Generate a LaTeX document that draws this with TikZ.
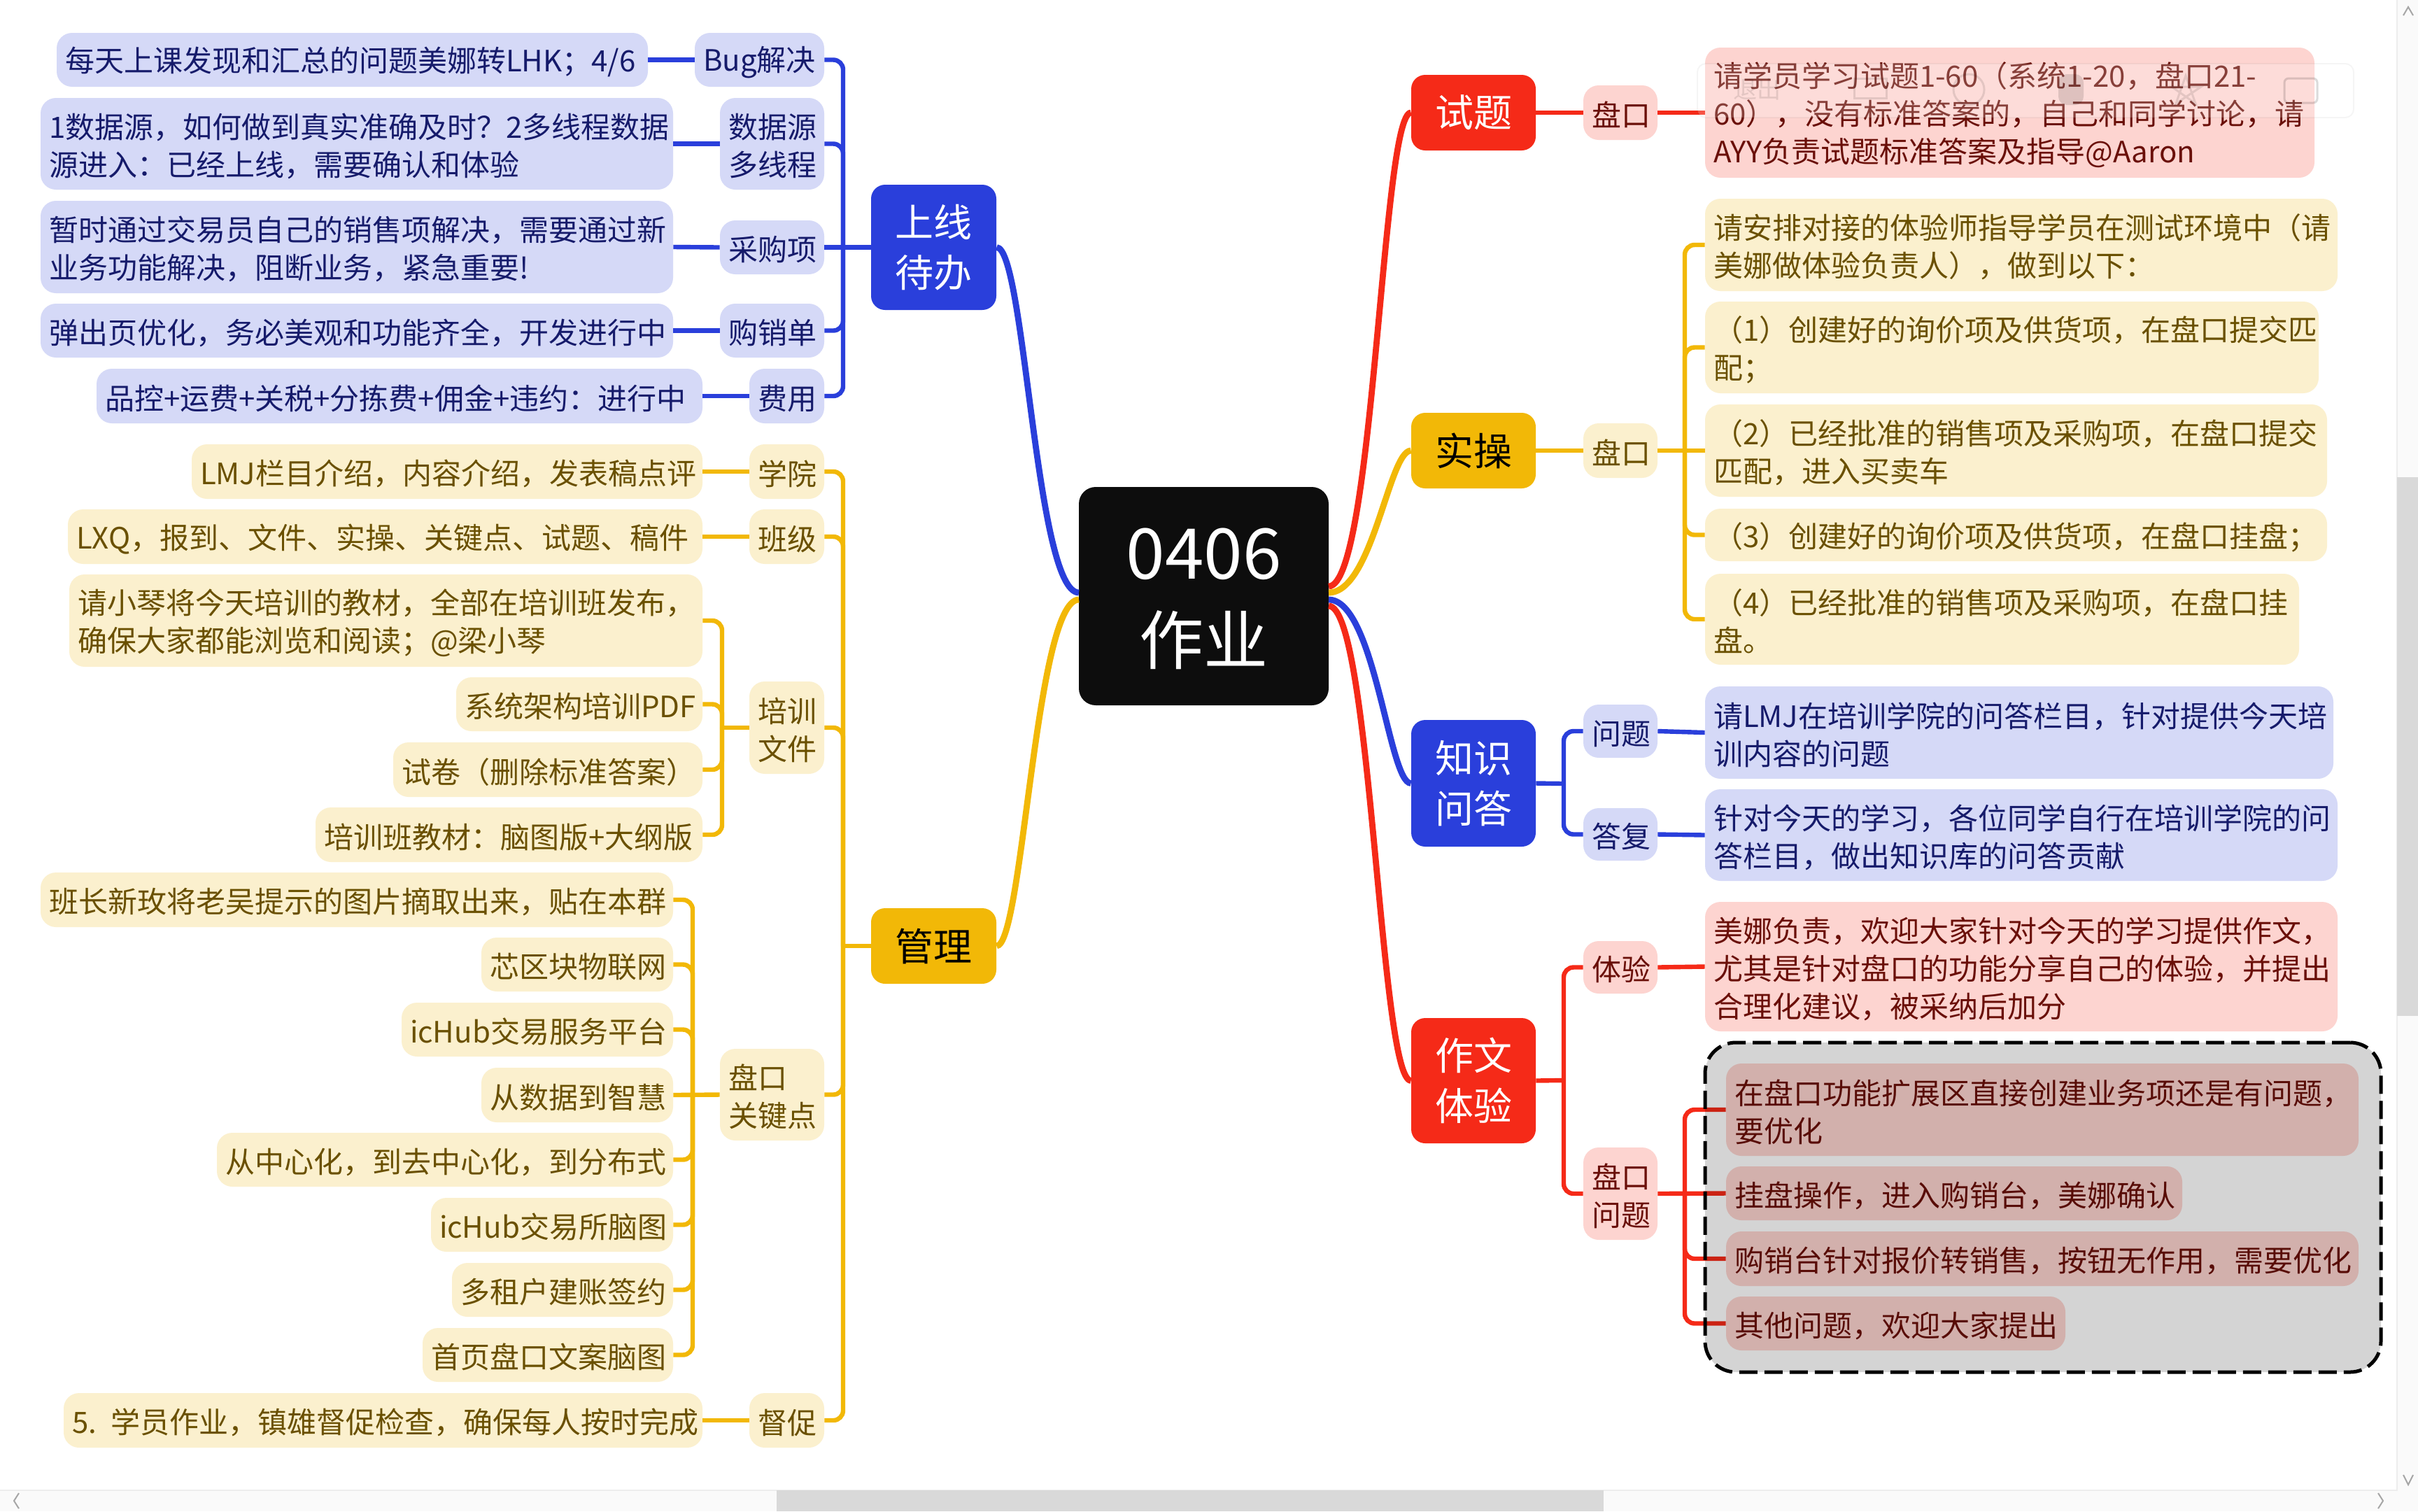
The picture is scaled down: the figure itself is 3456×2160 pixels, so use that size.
\documentclass[tikz,border=0pt]{standalone}
\usepackage{fontspec}
\setmainfont{Noto Sans CJK SC}
\definecolor{cblue}{HTML}{2A3FDB}
\definecolor{cyel}{HTML}{F2B807}
\definecolor{cred}{HTML}{F52A18}
\definecolor{lblue}{HTML}{D5D9F7}
\definecolor{lyel}{HTML}{FBF0CE}
\definecolor{lred}{HTML}{FDD4D0}
\definecolor{tblue}{HTML}{161B6B}
\definecolor{tyel}{HTML}{6A5000}
\definecolor{tred}{HTML}{6A0F08}
\tikzset{
  leafbox/.style={rounded corners=11pt,inner xsep=6pt,inner ysep=0pt,align=left,font=\fontsize{21}{27}\selectfont,execute at begin node={\rule{0pt}{21pt}}},
  blubox/.style={leafbox,fill=lblue,text=tblue},
  yelbox/.style={leafbox,fill=lyel,text=tyel},
  redbox/.style={leafbox,fill=lred,text=tred},
  mainbox/.style={rounded corners=10pt,inner xsep=6pt,inner ysep=0pt,align=center,font=\fontsize{27.5}{36}\selectfont},
  centerbox/.style={rounded corners=12pt,inner xsep=6pt,inner ysep=0pt,align=center,fill=black!95,text=white,font=\fontsize{46}{61}\selectfont,execute at begin node={\rule{0pt}{40.5pt}}},
  groupbox/.style={rounded corners=22pt,inner xsep=0pt,inner ysep=0pt,draw=black,line width=2.5pt,dash pattern=on 13pt off 5pt,fill=black,fill opacity=.17,draw opacity=1},
  curve/.style={line width=4.4pt},
  link/.style={line width=3.2pt},
  elbow/.style={line width=3.2pt,rounded corners=7pt},
  chev/.style={draw=black!35,line width=1pt},
}
\newcommand{\bx}[7]{%
  \pgfmathsetmacro\cxx{(#2+#4)/2}\pgfmathsetmacro\cyy{(#3+#5)/2}%
  \pgfmathsetmacro\ww{(#4-#2)*0.5}\pgfmathsetmacro\hh{(#5-#3)*0.5}\pgfmathsetmacro\tw{\ww-12}%
  \node[#6,minimum width=\ww pt,minimum height=\hh pt,text width=\tw pt] (#1) at (\cxx,\cyy) {#7};}
\begin{document}
\begin{tikzpicture}[x=0.5pt,y=-0.5pt]
\useasboundingbox (0,0) rectangle (3456,2160);
\fill[white] (0,0) rectangle (3456,2160);

% centre and main topics
\bx{root}{1542}{696}{1899}{1008}{centerbox}{{\fontsize{50}{61}\selectfont 0406}\\作业}
\bx{shiti}{2017}{107}{2195}{215}{mainbox,fill=cred,text=white}{试题}
\bx{shicao}{2017}{590}{2195}{698}{mainbox,fill=cyel,text=black}{实操}
\bx{zhishi}{2017}{1029}{2195}{1210}{mainbox,fill=cblue,text=white}{知识\\问答}
\bx{zuowen}{2017}{1455}{2195}{1634}{mainbox,fill=cred,text=white}{作文\\体验}
\bx{shangxian}{1245}{264}{1424}{443}{mainbox,fill=cblue,text=white}{上线\\待办}
\bx{guanli}{1245}{1298}{1424}{1406}{mainbox,fill=cyel,text=black}{管理}

% 上线待办
\bx{bug}{993}{47}{1178}{124}{blubox}{Bug解决}
\bx{bugt}{81}{47}{926}{124}{blubox}{每天上课发现和汇总的问题美娜转LHK；4/6}
\bx{sjy}{1029}{140}{1178}{271}{blubox}{数据源\\多线程}
\bx{sjyt}{58}{140}{962}{271}{blubox}{1数据源，如何做到真实准确及时？2多线程数据\\源进入：已经上线，需要确认和体验}
\bx{cgx}{1029}{315}{1178}{392}{blubox}{采购项}
\bx{cgxt}{58}{287}{962}{419}{blubox}{暂时通过交易员自己的销售项解决，需要通过新\\业务功能解决，阻断业务，紧急重要!}
\bx{gxd}{1029}{434}{1178}{511}{blubox}{购销单}
\bx{gxdt}{58}{434}{962}{511}{blubox}{弹出页优化，务必美观和功能齐全，开发进行中}
\bx{fy}{1071}{527}{1178}{605}{blubox}{费用}
\bx{fyt}{138}{527}{1004}{605}{blubox}{品控+运费+关税+分拣费+佣金+违约：进行中}

% 管理
\bx{xy}{1071}{635}{1178}{713}{yelbox}{学院}
\bx{xyt}{274}{635}{1004}{713}{yelbox}{LMJ栏目介绍，内容介绍，发表稿点评}
\bx{bj}{1071}{728}{1178}{806}{yelbox}{班级}
\bx{bjt}{97}{728}{1004}{806}{yelbox}{LXQ，报到、文件、实操、关键点、试题、稿件}
\bx{px}{1071}{974}{1178}{1106}{yelbox}{培训\\文件}
\bx{pxa}{99}{821}{1004}{953}{yelbox}{请小琴将今天培训的教材，全部在培训班发布，\\确保大家都能浏览和阅读；@梁小琴}
\bx{pxb}{652}{968}{1004}{1045}{yelbox}{系统架构培训PDF}
\bx{pxc}{562}{1061}{1004}{1139}{yelbox}{试卷（删除标准答案）}
\bx{pxd}{451}{1154}{1004}{1232}{yelbox}{培训班教材：脑图版+大纲版}
\bx{gjd}{1029}{1499}{1178}{1630}{yelbox}{盘口\\关键点}
\bx{ga}{58}{1247}{962}{1325}{yelbox}{班长新玫将老吴提示的图片摘取出来，贴在本群}
\bx{gb}{688}{1340}{962}{1417}{yelbox}{芯区块物联网}
\bx{gc}{574}{1433}{962}{1510}{yelbox}{icHub交易服务平台}
\bx{gd}{688}{1526}{962}{1604}{yelbox}{从数据到智慧}
\bx{ge}{310}{1619}{962}{1696}{yelbox}{从中心化，到去中心化，到分布式}
\bx{gf}{616}{1712}{962}{1789}{yelbox}{icHub交易所脑图}
\bx{gg}{646}{1805}{962}{1882}{yelbox}{多租户建账签约}
\bx{gh}{604}{1898}{962}{1975}{yelbox}{首页盘口文案脑图}
\bx{dc}{1071}{1991}{1178}{2069}{yelbox}{督促}
\bx{dct}{91}{1991}{1004}{2069}{yelbox}{5. 学员作业，镇雄督促检查，确保每人按时完成}

% 试题
\bx{stl}{2263}{122}{2369}{200}{redbox}{盘口}
\bx{stt}{2437}{68}{3308}{254}{redbox}{请学员学习试题1-60（系统1-20，盘口21-\\60），没有标准答案的，自己和同学讨论，请\\AYY负责试题标准答案及指导@Aaron}
% 实操
\bx{scl}{2263}{605}{2369}{683}{yelbox}{盘口}
\bx{sca}{2437}{284}{3341}{416}{yelbox}{请安排对接的体验师指导学员在测试环境中（请\\美娜做体验负责人），做到以下：}
\bx{scb}{2437}{431}{3314}{562}{yelbox}{（1）创建好的询价项及供货项，在盘口提交匹\\配；}
\bx{scc}{2437}{578}{3326}{710}{yelbox}{（2）已经批准的销售项及采购项，在盘口提交\\匹配，进入买卖车}
\bx{scd}{2437}{727}{3326}{802}{yelbox}{（3）创建好的询价项及供货项，在盘口挂盘；}
\bx{sce}{2437}{820}{3286}{950}{yelbox}{（4）已经批准的销售项及采购项，在盘口挂\\盘。}
% 知识问答
\bx{wt}{2263}{1007}{2369}{1083}{blubox}{问题}
\bx{wtt}{2437}{981}{3335}{1113}{blubox}{请LMJ在培训学院的问答栏目，针对提供今天培\\训内容的问题}
\bx{df}{2263}{1155}{2369}{1230}{blubox}{答复}
\bx{dft}{2437}{1128}{3341}{1259}{blubox}{针对今天的学习，各位同学自行在培训学院的问\\答栏目，做出知识库的问答贡献}
% 作文体验
\bx{ty}{2263}{1345}{2369}{1420}{redbox}{体验}
\bx{tyt}{2437}{1289}{3341}{1474}{redbox}{美娜负责，欢迎大家针对今天的学习提供作文，\\尤其是针对盘口的功能分享自己的体验，并提出\\合理化建议，被采纳后加分}
\bx{pw}{2263}{1640}{2369}{1772}{redbox}{盘口\\问题}
\bx{pwa}{2467}{1520}{3371}{1652}{redbox}{在盘口功能扩展区直接创建业务项还是有问题，\\要优化}
\bx{pwb}{2467}{1667}{3119}{1744}{redbox}{挂盘操作，进入购销台，美娜确认}
\bx{pwc}{2467}{1760}{3371}{1838}{redbox}{购销台针对报价转销售，按钮无作用，需要优化}
\bx{pwd}{2467}{1853}{2952}{1930}{redbox}{其他问题，欢迎大家提出}

% ports on the root node
\coordinate (rr1) at (1899,838);
\coordinate (rr2) at (1899,847);
\coordinate (rr3) at (1899,857);
\coordinate (rr4) at (1899,866);
\coordinate (rl1) at (1542,847);
\coordinate (rl2) at (1542,857);

% main curves
\draw[curve,cred] (rr1) .. controls (1964,838) and (1975,161) .. (shiti.west);
\draw[curve,cyel] (rr2) .. controls (1962,847) and (1985,644) .. (shicao.west);
\draw[curve,cblue] (rr3) .. controls (1965,857) and (1985,1120) .. (zhishi.west);
\draw[curve,cred] (rr4) .. controls (1960,866) and (1972,1544) .. (zuowen.west);
\draw[curve,cblue] (rl1) .. controls (1480,847) and (1465,353) .. (shangxian.east);
\draw[curve,cyel] (rl2) .. controls (1480,857) and (1462,1352) .. (guanli.east);

% trunk points
\coordinate (tu) at (1205,353);
\coordinate (tg) at (1205,1352);
\coordinate (tp) at (1032,1040);
\coordinate (tk) at (990,1564);
\coordinate (ts) at (2408,644);
\coordinate (tz) at (2235,1120);
\coordinate (tw) at (2235,1544);
\coordinate (tq) at (2408,1706);

% 上线待办 links
\draw[link,cblue] (shangxian.west) -- (cgx.east);
\foreach \n in {bug,sjy,gxd,fy} \draw[elbow,cblue] (tu) |- (\n.east);
\draw[link,cblue] (bug.west) -- (bugt.east);
\draw[link,cblue] (sjy.west) -- (sjyt.east);
\draw[link,cblue] (cgx.west) -- (cgxt.east);
\draw[link,cblue] (gxd.west) -- (gxdt.east);
\draw[link,cblue] (fy.west) -- (fyt.east);

% 管理 links
\draw[link,cyel] (guanli.west) -- (tg);
\foreach \n in {xy,bj,px,gjd,dc} \draw[elbow,cyel] (tg) |- (\n.east);
\draw[link,cyel] (xy.west) -- (xyt.east);
\draw[link,cyel] (bj.west) -- (bjt.east);
\draw[link,cyel] (dc.west) -- (dct.east);
\draw[link,cyel] (px.west) -- (tp);
\foreach \n in {pxa,pxb,pxc,pxd} \draw[elbow,cyel] (tp) |- (\n.east);
\draw[link,cyel] (gjd.west) -- (gd.east);
\foreach \n in {ga,gb,gc,ge,gf,gg,gh} \draw[elbow,cyel] (tk) |- (\n.east);

% right side links
\draw[link,cred] (shiti.east) -- (stl.west);
\draw[link,cred] (stl.east) -- (stt.west);
\draw[link,cyel] (shicao.east) -- (scl.west);
\draw[link,cyel] (scl.east) -- (scc.west);
\foreach \n in {sca,scb,scd,sce} \draw[elbow,cyel] (ts) |- (\n.west);
\draw[link,cblue] (zhishi.east) -- (tz);
\foreach \n in {wt,df} \draw[elbow,cblue] (tz) |- (\n.west);
\draw[link,cblue] (wt.east) -- (wtt.west);
\draw[link,cblue] (df.east) -- (dft.west);
\draw[link,cred] (zuowen.east) -- (tw);
\foreach \n in {ty,pw} \draw[elbow,cred] (tw) |- (\n.west);
\draw[link,cred] (ty.east) -- (tyt.west);
\draw[link,cred] (pw.east) -- (pwb.west);
\foreach \n in {pwa,pwc,pwd} \draw[elbow,cred] (tq) |- (\n.west);

% dashed group overlay
\bx{grp}{2437}{1490}{3403}{1961}{groupbox}{}

% faint floating toolbar
\fill[white,fill opacity=.20,rounded corners=6pt] (2426,91) rectangle (3364,168);
\draw[black,draw opacity=.04,line width=1pt,rounded corners=6pt] (2426,91) rectangle (3364,168);
\node[text=black,text opacity=.10,font=\fontsize{17}{20}\selectfont,inner sep=0pt] (tbq) at (2511,128) {退出};
\draw[black,draw opacity=.10,line width=1.5pt] (2650,112) rectangle (2696,140);
\draw[black,draw opacity=.10,line width=1.5pt] (2814,128) circle (22);
\fill[black,fill opacity=.12,rounded corners=6pt] (2942,106) rectangle (2978,150);
\draw[black,draw opacity=.10,line width=1.5pt] (3124,108) -- (3138,148) -- (3104,124) -- (3146,124) -- (3110,148) -- cycle;
\draw[black,draw opacity=.14,line width=1.5pt,rounded corners=3pt] (3265,112) rectangle (3312,147);

% scroll bars
\fill[black!2] (3426,0) rectangle (3456,2160);
\fill[black!2] (0,2130) rectangle (3456,2160);
\draw[black!7,line width=1pt] (3426,0) -- (3426,2130) -- (0,2130);
\fill[black!15] (3426,682) rectangle (3456,1452);
\fill[black!15] (1110,2130) rectangle (2292,2160);
\draw[chev] (3435,22) -- (3442,10) -- (3449,22);
\draw[chev] (3435,2108) -- (3442,2122) -- (3449,2108);
\draw[chev] (27,2134) -- (20,2145) -- (27,2156);
\draw[chev] (3399,2134) -- (3406,2145) -- (3399,2156);
\end{tikzpicture}
\end{document}
